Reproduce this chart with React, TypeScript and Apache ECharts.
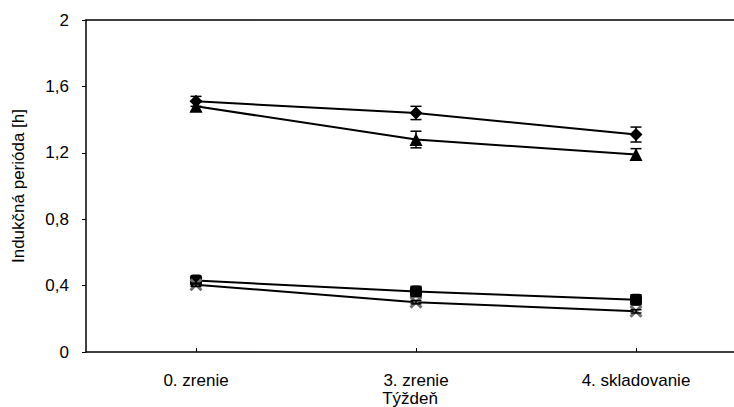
import React, { useEffect, useRef } from "react";
import * as echarts from "echarts";

const categories = ["0. zrenie", "3. zrenie", "4. skladovanie"];
const diamondVals = [1.51, 1.44, 1.31];
const diamondErr = [0.03, 0.04, 0.045];
const triangleVals = [1.48, 1.28, 1.19];
const triangleErr = [0.03, 0.05, 0.035];
const squareVals = [0.43, 0.365, 0.315];
const squareErr = [0.02, 0.03, 0.03];
const crossVals = [0.405, 0.3, 0.245];
const crossErr = [0.01, 0.01, 0.01];
const yTicks = { min: 0, max: 2, interval: 0.4 };
const catIdx = [0, 1, 2];

const crossPath =
  "path://M0,1.6L1.6,0L5,3.4L8.4,0L10,1.6L6.6,5L10,8.4L8.4,10L5,6.6L1.6,10L0,8.4L3.4,5Z";

function errSeries(vals: number[], errs: number[]) {
  return {
    type: "custom",
    silent: true,
    z: 5,
    xAxisIndex: 0,
    data: vals.map((v, i) => [catIdx[i], v - errs[i], v + errs[i]]),
    renderItem: (params: any, api: any) => {
      const lo = api.coord([api.value(0), api.value(1)]);
      const hi = api.coord([api.value(0), api.value(2)]);
      const w = 5.5;
      const st = { stroke: "#000", lineWidth: 1.5 };
      return {
        type: "group",
        children: [
          { type: "line", shape: { x1: lo[0], y1: lo[1], x2: hi[0], y2: hi[1] }, style: st },
          { type: "line", shape: { x1: lo[0] - w, y1: lo[1], x2: lo[0] + w, y2: lo[1] }, style: st },
          { type: "line", shape: { x1: hi[0] - w, y1: hi[1], x2: hi[0] + w, y2: hi[1] }, style: st },
        ],
      };
    },
  };
}

function lineSeries(name: string, vals: number[], symbol: string, size: number, color: string) {
  return {
    name,
    type: "line",
    xAxisIndex: 0,
    data: vals.map((v, i) => [catIdx[i], v]),
    symbol,
    symbolSize: size,
    showAllSymbol: true,
    z: 4,
    lineStyle: { color: "#000", width: 2 },
    itemStyle: { color, borderColor: color, borderWidth: 0 },
  };
}

export default function App() {
  const ref = useRef<HTMLDivElement>(null);
  useEffect(() => {
    document.body.style.margin = "0";
    const chart = echarts.init(ref.current!, null, { renderer: "svg" });
    const font = "Liberation Sans, Arial, sans-serif";
    const xMin = -0.5;
    const xMax = 2.4455;
    chart.setOption({
      animation: false,
      textStyle: { fontFamily: font },
      grid: { left: 86, top: 20, width: 648, height: 332, outerBoundsMode: "none", containLabel: false },
      xAxis: [
        {
          type: "value",
          min: xMin,
          max: xMax,
          name: "Týždeň",
          nameLocation: "middle",
          nameGap: 38,
          nameMoveOverlap: false,
          nameTextStyle: { fontSize: 17, color: "#000", fontFamily: font, lineHeight: 17 },
          axisLine: { show: true, onZero: false, lineStyle: { color: "#000", width: 1.5 } },
          axisTick: { show: true, inside: true, length: 4, customValues: catIdx, lineStyle: { color: "#000" } },
          axisLabel: {
            fontSize: 17,
            lineHeight: 18,
            color: "#000",
            margin: 19,
            fontFamily: font,
            customValues: catIdx,
            formatter: (v: number) => categories[Math.round(v)] ?? "",
          },
          splitLine: { show: false },
        },
        {
          type: "value",
          position: "top",
          min: xMin,
          max: xMax,
          axisLine: { show: true, onZero: false, lineStyle: { color: "#000", width: 1.5 } },
          axisTick: { show: false },
          axisLabel: { show: false },
          splitLine: { show: false },
        },
      ],
      yAxis: {
        type: "value",
        min: yTicks.min,
        max: yTicks.max,
        interval: yTicks.interval,
        name: "Indukčná perióda [h]",
        nameLocation: "middle",
        nameGap: 59,
        nameMoveOverlap: false,
        nameTextStyle: { fontSize: 17, color: "#000", fontFamily: font },
        axisLine: { show: true, onZero: false, lineStyle: { color: "#000", width: 1.5 } },
        axisTick: { show: true, length: 4, lineStyle: { color: "#000" } },
        axisLabel: {
          fontSize: 17,
          color: "#000",
          margin: 17,
          fontFamily: font,
          formatter: (v: number) => String(Math.round(v * 10) / 10).replace(".", ","),
        },
        splitLine: { show: false },
      },
      series: [
        lineSeries("A", diamondVals, "diamond", 13, "#000"),
        lineSeries("B", triangleVals, "triangle", 13, "#000"),
        lineSeries("C", squareVals, "roundRect", 12, "#000"),
        lineSeries("D", crossVals, crossPath, 13, "#6e6e6e"),
        errSeries(diamondVals, diamondErr),
        errSeries(triangleVals, triangleErr),
        errSeries(squareVals, squareErr),
        errSeries(crossVals, crossErr),
      ],
    });
    return () => chart.dispose();
  }, []);
  return <div ref={ref} style={{ width: 734, height: 407 }} />;
}
